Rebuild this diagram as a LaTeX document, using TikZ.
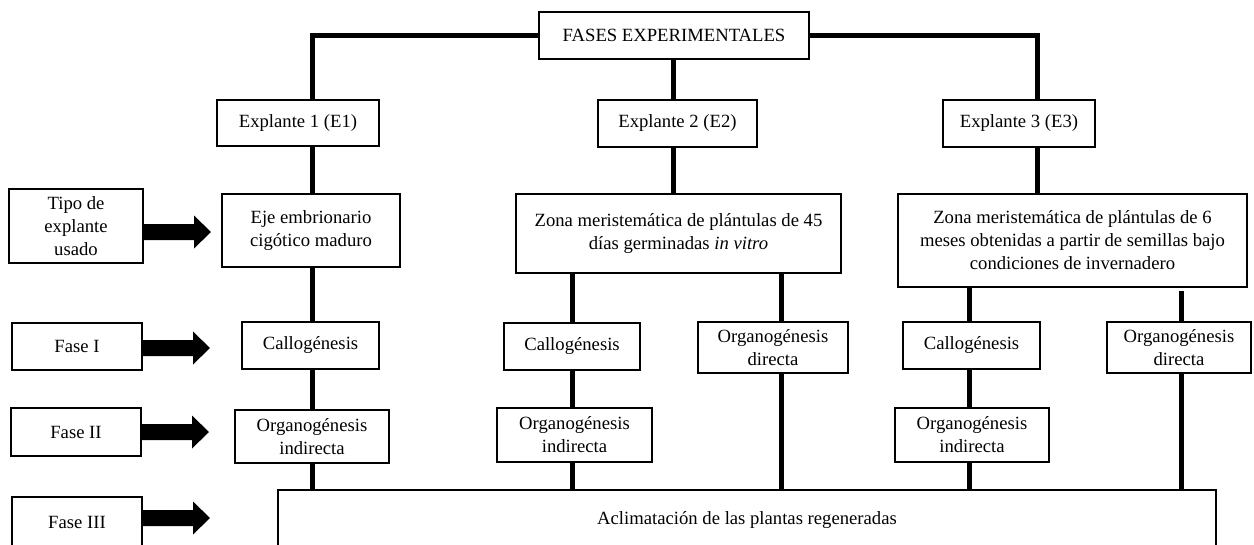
\documentclass[tikz,border=0pt]{standalone}
\usepackage{fontspec}
\setmainfont{Liberation Serif}
\usetikzlibrary{calc}
\tikzset{
  box/.style={draw, line width=1.2pt, align=center, inner sep=0pt, outer sep=0pt,
    font=\fontsize{14}{17.3}\selectfont},
  conn/.style={line width=3.75pt},
  fat/.style={fill=black}
}
\newcommand\bx[6]{%
  \pgfmathsetmacro\bw{(#4-#2)*0.75}%
  \pgfmathsetmacro\bh{(#5-#3)*0.75}%
  \node[box, minimum width=\bw pt, minimum height=\bh pt] (#1) at ({(#2+#4)/2},{(#3+#5)/2}) {#6};}
\newcommand\fatarrow[2]{%
  \fill[fat] (#1.east |- 0,#2) ++(0,-8) -- ++(51,0) -- ++(0,-8.5) -- ++(17,16.5)
    -- ++(-17,16.5) -- ++(0,-8.5) -- ++(-51,0) -- cycle;}
\begin{document}
\begin{tikzpicture}[x=0.75pt, y=-0.75pt]
\useasboundingbox (0,0) rectangle (1254,544);
\clip (0,0) rectangle (1254,544);
% column positions
\coordinate (c1) at (312,0);
\coordinate (c2) at (673,0);
\coordinate (c3) at (1037,0);
\coordinate (c4) at (572,0);
\coordinate (c5) at (781,0);
\coordinate (c6) at (969,0);
\coordinate (c7) at (1181,0);
% boxes
\bx{fases}{539}{12}{809}{59}{FASES EXPERIMENTALES}
\bx{e1}{217}{100}{379}{146}{Explante 1 (E1)}
\bx{e2}{598}{100}{757}{147}{Explante 2 (E2)}
\bx{e3}{943}{100}{1095}{147}{Explante 3 (E3)}
\bx{tipo}{9}{189}{143}{263}{Tipo de\\explante\\usado}
\bx{eje}{222}{194}{400}{267}{Eje embrionario\\cigótico maduro}
\bx{zona2}{516}{194}{841}{273}{Zona meristemática de plántulas de 45\\días germinadas \textit{in vitro}}
\bx{zona3}{898}{194}{1247}{287}{Zona meristemática de plántulas de 6\\meses obtenidas a partir de semillas bajo\\condiciones de invernadero}
\bx{fase1}{12}{323}{142}{370}{Fase I}
\bx{callo1}{242}{322}{379}{369}{Callogénesis}
\bx{callo2}{504}{323}{640}{370}{Callogénesis}
\bx{orgdir2}{698}{322}{848}{373}{Organogénesis\\directa}
\bx{callo3}{903}{322}{1040}{369}{Callogénesis}
\bx{orgdir3}{1107}{322}{1251}{373}{Organogénesis\\directa}
\bx{fase2}{11}{408}{141}{456}{Fase II}
\bx{orgind1}{235}{410}{389}{463}{Organogénesis\\indirecta}
\bx{orgind2}{497}{408}{652}{462}{Organogénesis\\indirecta}
\bx{orgind3}{895}{408}{1049}{462}{Organogénesis\\indirecta}
\bx{fase3}{12}{497}{142}{547}{Fase III}
\bx{accl}{278}{490}{1216}{550}{Aclimatación de las plantas regeneradas}
% connectors
\draw[conn] (fases.west) -| (e1.north -| c1);
\draw[conn] (fases.south -| c2) -- (e2.north -| c2);
\draw[conn] (fases.east) -| (e3.north -| c3);
\draw[conn] (e1.south -| c1) -- (eje.north -| c1);
\draw[conn] (e2.south -| c2) -- (zona2.north -| c2);
\draw[conn] (e3.south -| c3) -- (zona3.north -| c3);
\draw[conn] (eje.south -| c1) -- (callo1.north -| c1);
\draw[conn] (callo1.south -| c1) -- (orgind1.north -| c1);
\draw[conn] (orgind1.south -| c1) -- (accl.north -| c1);
\draw[conn] (zona2.south -| c4) -- (callo2.north -| c4);
\draw[conn] (callo2.south -| c4) -- (orgind2.north -| c4);
\draw[conn] (orgind2.south -| c4) -- (accl.north -| c4);
\draw[conn] (zona2.south -| c5) -- (orgdir2.north -| c5);
\draw[conn] (orgdir2.south -| c5) -- (accl.north -| c5);
\draw[conn] (zona3.south -| c6) -- (callo3.north -| c6);
\draw[conn] (callo3.south -| c6) -- (orgind3.north -| c6);
\draw[conn] (orgind3.south -| c6) -- (accl.north -| c6);
\draw[conn] ($(zona3.south -| c7)+(0,4)$) -- (orgdir3.north -| c7);
\draw[conn] (orgdir3.south -| c7) -- (accl.north -| c7);
% block arrows
\fatarrow{tipo}{232}
\fatarrow{fase1}{348}
\fatarrow{fase2}{432}
\fatarrow{fase3}{518}
\end{tikzpicture}
\end{document}
